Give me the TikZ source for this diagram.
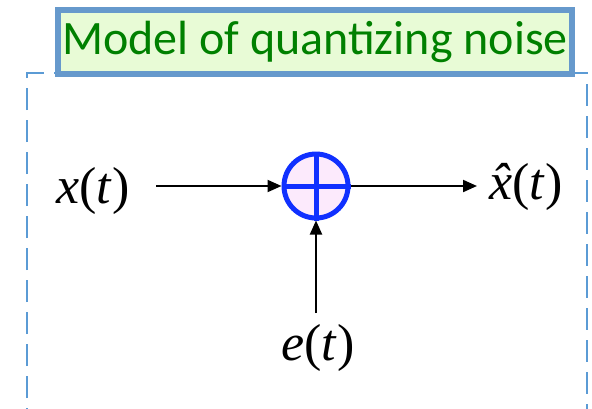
\documentclass[tikz,border=0pt]{standalone}
\usepackage{fontspec}
\setmainfont{Liberation Serif}
\newfontfamily\titlefont{Carlito}
\usetikzlibrary{arrows.meta}
\definecolor{titlegreen}{HTML}{008000}
\definecolor{titlefill}{HTML}{E8FBD6}
\definecolor{titleborder}{HTML}{6699CC}
\definecolor{dashblue}{HTML}{5B9BD5}
\definecolor{sumblue}{HTML}{1030FF}
\definecolor{sumfill}{HTML}{FCEAFC}
\tikzset{
  sig/.style={font=\fontsize{52}{56}\selectfont, inner sep=0pt, anchor=base},
  conn/.style={line width=2pt, -{Triangle[length=14pt,width=12pt]}},
}
\begin{document}
\begin{tikzpicture}[x=1pt,y=-1pt]
\useasboundingbox (0,0) rectangle (592,408);
% dashed frame
\draw[dashblue, line width=2.5pt, dash pattern=on 22pt off 10pt] (27,430) -- (27,73) -- (587,73) -- (587,430);
% title
\node[draw=titleborder, line width=6pt, fill=titlefill, text=titlegreen, inner xsep=4pt, inner ysep=0pt,
      minimum width=512pt, minimum height=64pt, font=\titlefont\fontsize{48}{52}\selectfont] (title) at (315,42) {Model of quantizing noise};
% summing junction
\node[circle, draw=sumblue, fill=sumfill, line width=5pt, minimum size=64pt, inner sep=0pt] (sum) at (316,186) {};
\draw[sumblue, line width=5pt] (sum.north) -- (sum.south) (sum.west) -- (sum.east);
% signals
\node[sig] (x) at (93,203) {\textit{x}(\textit{t})};
\node[sig] (xh) at (526,199) {\ooalign{\textit{x}\cr\hidewidth\textit{\char"02C6}\hidewidth\cr}(\textit{t})};
\node[sig] (e) at (318,360) {\textit{e}(\textit{t})};
\coordinate (xs) at (156,186);
\coordinate (xe) at (477,186);
\coordinate (es) at (316,313);
\draw[conn] (xs) -- (sum.west);
\draw[conn] (sum.east) -- (xe);
\draw[conn] (es) -- (sum.south);
\end{tikzpicture}
\end{document}
